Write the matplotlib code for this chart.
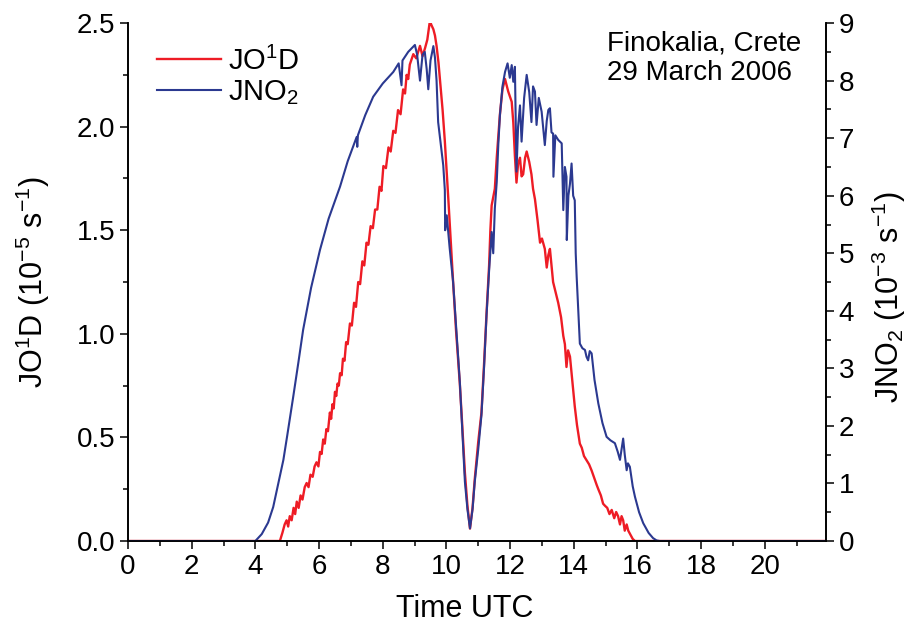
import matplotlib
matplotlib.use('Agg')
import matplotlib.pyplot as plt
from matplotlib.ticker import MultipleLocator

# fonts close to the arial look of the original
plt.rcParams['font.family'] = ['Liberation Sans', 'DejaVu Sans']
plt.rcParams['mathtext.default'] = 'regular'

# JO1D in 10^-5 s^-1
t_o1d = [0, 4.77, 4.85, 4.92, 4.98, 5.03, 5.08, 5.14, 5.2, 5.25, 5.3, 5.36, 5.42, 5.48,
         5.55, 5.61, 5.67, 5.73, 5.8, 5.86, 5.92, 5.98, 6.03, 6.08, 6.13, 6.18, 6.23, 6.28,
         6.34, 6.38, 6.42, 6.46, 6.5, 6.54, 6.58, 6.62, 6.66, 6.71, 6.75, 6.8, 6.85, 6.9,
         6.97, 7.03, 7.1, 7.16, 7.23, 7.29, 7.36, 7.42, 7.49, 7.55, 7.62, 7.69, 7.76, 7.83,
         7.9, 7.96, 8.02, 8.1, 8.18, 8.25, 8.33, 8.4, 8.48, 8.56, 8.64, 8.7, 8.75, 8.8,
         8.85, 8.96, 9.05, 9.17, 9.25, 9.33, 9.4, 9.48, 9.53,
         9.59, 9.64, 9.69, 9.75, 9.8, 9.88, 9.95, 10.06, 10.21, 10.3, 10.42, 10.5, 10.58,
         10.66, 10.74, 10.82, 10.89, 11.0, 11.1, 11.18, 11.26, 11.34, 11.38, 11.42, 11.52,
         11.58, 11.68, 11.76, 11.84, 11.94, 12.05, 12.1, 12.15, 12.2, 12.25, 12.31, 12.36,
         12.41, 12.47, 12.52, 12.6, 12.67, 12.72, 12.78, 12.86, 12.94, 13.0, 13.09, 13.15,
         13.2, 13.25, 13.35, 13.43, 13.51, 13.6, 13.67, 13.72, 13.77, 13.82, 13.88, 13.95,
         14.03, 14.1, 14.19, 14.25, 14.32, 14.4, 14.48, 14.56, 14.65, 14.72, 14.77, 14.85,
         14.92, 14.98, 15.05, 15.12, 15.19, 15.27, 15.33, 15.39, 15.45, 15.5, 15.55, 15.6,
         15.66, 15.71, 15.78, 15.85, 15.92, 21.92]
jo1d = [0, 0, 0.04, 0.08, 0.10, 0.07, 0.12, 0.10, 0.16, 0.13, 0.19, 0.16, 0.22, 0.20,
        0.26, 0.28, 0.26, 0.32, 0.31, 0.36, 0.38, 0.36, 0.43, 0.42, 0.49, 0.47, 0.54, 0.53,
        0.62, 0.59, 0.66, 0.64, 0.72, 0.70, 0.76, 0.75, 0.81, 0.80, 0.88, 0.87, 0.96, 0.95,
        1.05, 1.04, 1.15, 1.13, 1.25, 1.24, 1.35, 1.33, 1.44, 1.43, 1.52, 1.51, 1.60, 1.60,
        1.71, 1.69, 1.81, 1.80, 1.90, 1.88, 1.98, 1.97, 2.08, 2.06, 2.18, 2.16, 2.25, 2.23,
        2.30, 2.35, 2.33, 2.39, 2.34, 2.38, 2.42, 2.51, 2.49,
        2.47, 2.44, 2.39, 2.31, 2.22, 2.08, 1.93, 1.65, 1.25, 1.02, 0.76, 0.55, 0.33,
        0.17, 0.06, 0.16, 0.30, 0.48, 0.62, 0.85, 1.10, 1.33, 1.50, 1.62, 1.70,
        1.85, 2.06, 2.18, 2.23, 2.17, 2.12, 2.02, 1.86, 1.73, 1.82, 1.85, 1.76,
        1.77, 1.85, 1.88, 1.83, 1.77, 1.70, 1.65, 1.55, 1.44, 1.46, 1.41, 1.32,
        1.38, 1.41, 1.25, 1.20, 1.15, 1.08, 0.99, 0.95, 0.84, 0.92, 0.89, 0.78,
        0.65, 0.56, 0.47, 0.45, 0.41, 0.39, 0.37, 0.34, 0.30, 0.27, 0.25, 0.22,
        0.18, 0.17, 0.16, 0.13, 0.15, 0.11, 0.14, 0.12, 0.08, 0.12, 0.10, 0.05,
        0.08, 0.05, 0.03, 0.01, 0, 0]

# JNO2 in 10^-3 s^-1
t_no2 = [0, 4.0, 4.2, 4.4, 4.56, 4.7, 4.88, 5.0, 5.19, 5.35, 5.5, 5.75, 6.03, 6.3, 6.66,
         6.9, 7.18, 7.2, 7.22, 7.45, 7.7, 8.0, 8.33, 8.5, 8.59, 8.62, 8.8, 9.01, 9.08,
         9.17, 9.25, 9.32, 9.38, 9.43, 9.5, 9.59, 9.64, 9.69, 9.74, 9.8, 9.9, 9.95, 9.96,
         10.01, 10.1, 10.21, 10.3, 10.42, 10.5, 10.58, 10.66, 10.74, 10.82, 10.89, 11.0,
         11.1, 11.18, 11.26, 11.34, 11.42, 11.47, 11.52, 11.58, 11.63, 11.68, 11.76, 11.84,
         11.92, 11.99, 12.05, 12.1, 12.15, 12.2, 12.25, 12.31, 12.36, 12.44, 12.52, 12.6,
         12.67, 12.72, 12.78, 12.83, 12.9, 12.99, 13.09, 13.15, 13.2, 13.25, 13.3, 13.35,
         13.36, 13.42, 13.51, 13.62, 13.67, 13.72, 13.77, 13.78, 13.83, 13.88, 13.93, 13.98,
         14.03, 14.06, 14.09, 14.19, 14.27, 14.35, 14.4, 14.45, 14.5, 14.56, 14.65, 14.77,
         14.9, 15.03, 15.15, 15.29, 15.38, 15.45, 15.5, 15.55, 15.6, 15.66, 15.7, 15.76,
         15.85, 15.92, 16.05, 16.18, 16.35, 16.49, 16.6, 16.7, 21.92]
jno2 = [0, 0, 0.12, 0.32, 0.59, 0.95, 1.41, 1.83, 2.51, 3.10, 3.67, 4.40, 5.06, 5.60, 6.16,
        6.60, 7.02, 6.85, 7.05, 7.40, 7.72, 7.95, 8.15, 8.30, 7.92, 8.35, 8.50, 8.62, 8.45,
        8.00, 8.45, 8.50, 8.20, 7.85, 8.35, 8.60, 8.40, 8.00, 7.28, 7.00, 6.53, 6.10, 5.40,
        5.66, 5.10, 4.50, 3.75, 2.77, 1.90, 1.03, 0.55, 0.22, 0.55, 1.03, 1.60,
        2.19, 3.00, 3.93, 4.70, 5.37, 5.00, 5.78, 6.24, 6.90, 7.40, 7.90, 8.15,
        8.30, 8.05, 8.27, 7.98, 8.24, 6.42, 7.20, 7.57, 6.94, 7.70, 8.10, 7.80,
        7.28, 7.90, 7.81, 7.23, 7.70, 7.46, 6.88, 7.30, 7.49, 7.52, 7.10, 7.08,
        6.33, 7.05, 6.97, 6.91, 5.75, 6.50, 6.33, 5.23, 6.00, 6.21, 6.56, 6.00,
        5.92, 5.00, 4.59, 3.43, 3.35, 3.32, 3.20, 3.14, 3.30, 3.26, 2.80, 2.39,
        2.05, 1.81, 1.75, 1.70, 1.55, 1.41, 1.60, 1.78, 1.50, 1.23, 1.35, 1.29,
        0.95, 0.77, 0.50, 0.31, 0.14, 0.05, 0.01, 0, 0]

x_ticks = [0, 2, 4, 6, 8, 10, 12, 14, 16, 18, 20]

fig = plt.figure(figsize=(9.09, 6.24), dpi=100)
ax = fig.add_axes([0.1408, 0.133, 0.7679, 0.830])
ax2 = ax.twinx()

l1, = ax.plot(t_o1d, jo1d, color='#ee1c25', lw=1.7, label=r'JO$^1$D')
l2, = ax2.plot(t_no2, jno2, color='#2b3990', lw=1.5, label=r'JNO$_2$')

ax.set_xlim(0, 21.92)
ax.set_ylim(0, 2.5)
ax2.set_ylim(0, 9)

ax.set_xticks(x_ticks)
ax.xaxis.set_minor_locator(MultipleLocator(1))
ax.yaxis.set_major_locator(MultipleLocator(0.5))
ax.yaxis.set_minor_locator(MultipleLocator(0.25))
ax.yaxis.set_major_formatter(plt.FormatStrFormatter('%.1f'))
ax2.yaxis.set_major_locator(MultipleLocator(1))
ax2.yaxis.set_minor_locator(MultipleLocator(0.5))

for a in (ax, ax2):
    a.spines['top'].set_visible(False)
    for s in a.spines.values():
        s.set_linewidth(1.2)
    a.tick_params(which='major', direction='out', length=6, width=1.1, labelsize=20, pad=3)
    a.tick_params(which='minor', direction='out', length=3.5, width=1.1)

ax.set_xlabel('Time UTC', fontsize=22)
ax.xaxis.set_label_coords(0.483, -0.102)
ax.set_ylabel(r'JO$^1$D (10$^{-5}$ s$^{-1}$)', fontsize=22)
ax.yaxis.set_label_coords(-0.109, 0.5)
ax2.set_ylabel(r'JNO$_2$ (10$^{-3}$ s$^{-1}$)', fontsize=22)
ax2.yaxis.set_label_coords(1.062, 0.47)

ax2.legend(handles=[l1, l2], loc='upper left', bbox_to_anchor=(0.041, 0.955), frameon=False,
           fontsize=21, handlelength=2.2, handletextpad=0.25, labelspacing=0.1,
           borderpad=0, borderaxespad=0)

ax2.text(0.686, 0.985, 'Finokalia, Crete\n29 March 2006', transform=ax.transAxes,
         fontsize=20, ha='left', va='top', linespacing=1.15)

fig.savefig('out.png', dpi=100)
